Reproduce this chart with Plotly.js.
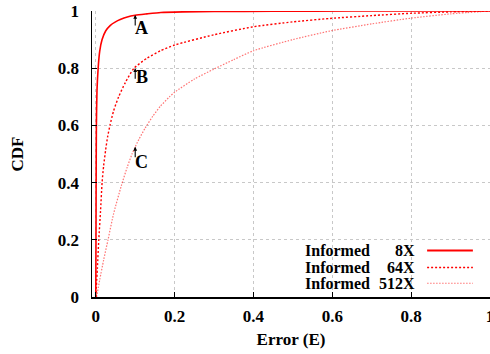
<!DOCTYPE html>
<html>
<head>
<meta charset="utf-8">
<script src="https://cdn.plot.ly/plotly-3.0.1.min.js"></script>
<style>html,body{margin:0;padding:0;background:#fff;}#chart{width:490px;height:354px;}</style>
</head>
<body>
<div id="chart"></div>
<script>
// ---- data ----
const seriesNames = ["8X", "64X", "512X"];
const legendPrefix = "Informed";

const x8 = [0, 0.0005, 0.001, 0.0015, 0.003, 0.006, 0.01, 0.016, 0.025, 0.037, 0.05, 0.062, 0.08, 0.1, 0.13, 0.165, 0.22, 0.3, 0.45, 0.65, 1.0];
const y8 = [0, 0.2, 0.45, 0.6, 0.72, 0.8, 0.86, 0.9, 0.93, 0.95, 0.962, 0.97, 0.979, 0.985, 0.99, 0.995, 0.997, 0.998, 0.999, 1.0, 1.0];

const x64 = [0, 0.004, 0.0076, 0.012, 0.016, 0.02, 0.025, 0.03, 0.036, 0.045, 0.058, 0.075, 0.097, 0.13, 0.164, 0.2, 0.3, 0.4, 0.5, 0.594, 0.7, 0.8, 0.9, 1.0];
const y64 = [0, 0.1, 0.2, 0.3, 0.4, 0.46, 0.514, 0.56, 0.6, 0.65, 0.7, 0.75, 0.8, 0.835, 0.861, 0.881, 0.917, 0.945, 0.962, 0.974, 0.984, 0.992, 0.997, 1.0];

const x512 = [0.002, 0.01, 0.02, 0.031, 0.045, 0.065, 0.08, 0.092, 0.1, 0.11, 0.125, 0.145, 0.164, 0.187, 0.2, 0.25, 0.3, 0.35, 0.4, 0.5, 0.594, 0.7, 0.8, 0.9, 1.0];
const y512 = [0, 0.06, 0.13, 0.2, 0.29, 0.39, 0.455, 0.5, 0.525, 0.553, 0.59, 0.633, 0.667, 0.70, 0.716, 0.762, 0.797, 0.83, 0.861, 0.9, 0.93, 0.955, 0.975, 0.99, 1.0];

// marker annotations: label, x, arrow tip y, arrow tail y, label y
const markLabels = ["A", "B", "C"];
const markX = [0.1, 0.1, 0.1];
const markTipY = [0.986, 0.80, 0.525];
const markTailY = [0.944, 0.758, 0.483];
const markLabelY = [0.942, 0.769, 0.472];

const xTicks = [0, 0.2, 0.4, 0.6, 0.8, 1];
const xTickText = ["0", "0.2", "0.4", "0.6", "0.8", "1"];
const yTicks = [0, 0.2, 0.4, 0.6, 0.8, 1];
const yTickText = ["0", "0.2", "0.4", "0.6", "0.8", "1"];

// ---- styling ----
const FONT = "Liberation Serif, Times New Roman, serif";
const lineStyles = [
  {color: "#ff0000", width: 1.6, dash: "solid"},
  {color: "#ff0000", width: 1.4, dash: "2px,2px"},
  {color: "rgba(255,0,0,0.55)", width: 1.2, dash: "1.5px,1.5px"}
];
const xs = [x8, x64, x512];
const ys = [y8, y64, y512];

const traces = xs.map((x, i) => ({
  x: x, y: ys[i], type: "scatter", mode: "lines",
  name: legendPrefix + " " + seriesNames[i],
  line: Object.assign({shape: "spline", smoothing: 0.6}, lineStyles[i]),
  showlegend: false, hoverinfo: "skip"
}));

const annotations = [];
markLabels.forEach((lab, i) => {
  annotations.push({
    x: markX[i], y: markTipY[i], xref: "x", yref: "y",
    ax: markX[i], ay: markTailY[i], axref: "x", ayref: "y",
    text: "", showarrow: true, arrowhead: 2, arrowsize: 0.7, arrowwidth: 1.1,
    arrowcolor: "#000", standoff: 0, startstandoff: 0
  });
  annotations.push({
    x: markX[i] + 0.017, y: markLabelY[i], xref: "x", yref: "y",
    text: "<b>" + lab + "</b>", showarrow: false,
    font: {family: FONT, size: 18, color: "#000"},
    xanchor: "center", yanchor: "middle"
  });
});

// legend (text left of line sample, as in the reference)
const legY = [0.163, 0.103, 0.048];
const shapes = [];
seriesNames.forEach((s, i) => {
  annotations.push({
    x: 0.531, y: legY[i], xref: "paper", yref: "paper",
    text: "<b>" + legendPrefix + "</b>", showarrow: false,
    xanchor: "left", yanchor: "middle",
    font: {family: FONT, size: 16, color: "#000"}
  });
  annotations.push({
    x: 0.817, y: legY[i], xref: "paper", yref: "paper",
    text: "<b>" + s + "</b>", showarrow: false,
    xanchor: "right", yanchor: "middle",
    font: {family: FONT, size: 16, color: "#000"}
  });
  shapes.push({
    type: "line", xref: "paper", yref: "paper",
    x0: 0.842, x1: 0.957, y0: legY[i], y1: legY[i],
    line: {color: lineStyles[i].color, width: lineStyles[i].width + (i === 0 ? 0.4 : 0), dash: lineStyles[i].dash}
  });
});

const axisCommon = {
  showline: true, linecolor: "#000", linewidth: 1.5,
  ticks: "inside", ticklen: 5, tickcolor: "#000", tickwidth: 1,
  showgrid: true, gridcolor: "#c8c8c8", gridwidth: 1, griddash: "dot",
  zeroline: false, tickfont: {family: FONT, size: 17, color: "#000"}
};

const layout = {
  width: 490, height: 354,
  margin: {l: 92, r: 0, t: 11, b: 57},
  paper_bgcolor: "#fff", plot_bgcolor: "#fff",
  font: {family: FONT, color: "#000"},
  xaxis: Object.assign({}, axisCommon, {
    range: [-0.0096, 1.0], tickmode: "array", tickvals: xTicks,
    ticktext: xTickText.map(t => "<b>" + t + "</b>"),
    ticklabelstandoff: 3, ticklabeloverflow: "allow",
    title: {text: "<b>Error (E)</b>", font: {family: FONT, size: 17, color: "#000"}, standoff: 8}
  }),
  yaxis: Object.assign({}, axisCommon, {
    range: [0, 1], tickmode: "array", tickvals: yTicks,
    ticktext: yTickText.map(t => "<b>" + t + "</b>"),
    ticklabelstandoff: 8,
    title: {text: "<b>CDF</b>", font: {family: FONT, size: 17, color: "#000"}, standoff: 30}
  }),
  annotations: annotations,
  shapes: shapes,
  showlegend: false
};

Plotly.newPlot("chart", traces, layout, {displayModeBar: false, staticPlot: true});
</script>
</body>
</html>
